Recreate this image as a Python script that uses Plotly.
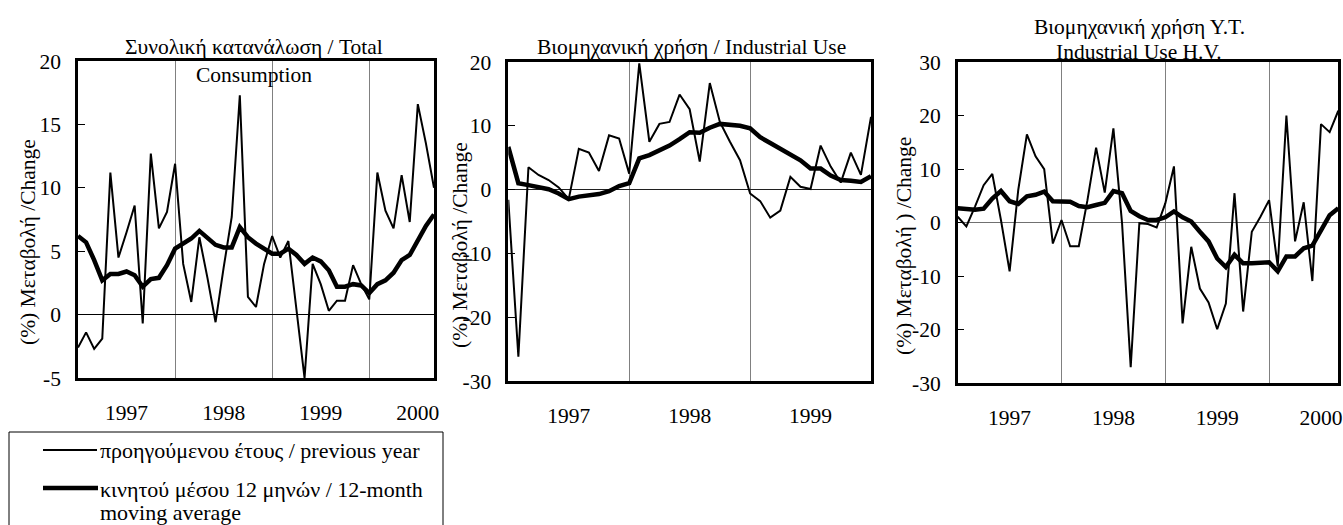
import plotly.graph_objects as go

# ---------------- data ----------------
years_13 = ["1997", "1998", "1999", "2000"]
years_2 = ["1997", "1998", "1999"]

total_yoy = [-2.6, -1.4, -2.7, -1.9, 11.2, 4.5, 6.5, 8.6, -0.7, 12.7, 6.8, 8.1,
             11.9, 4.0, 1.0, 6.1, 2.9, -0.6, 3.7, 7.7, 17.3, 1.4, 0.6, 4.0,
             6.2, 4.5, 5.8, 0.3, -5.0, 4.0, 2.4, 0.3, 1.1, 1.1, 3.9, 2.4,
             1.2, 11.2, 8.2, 6.8, 11.0, 7.3, 16.6, 13.5, 10.0]
total_ma = [6.2, 5.7, 4.3, 2.7, 3.2, 3.2, 3.4, 3.1, 2.2, 2.8, 2.9, 3.9,
            5.2, 5.6, 6.0, 6.6, 6.0, 5.5, 5.3, 5.3, 6.9, 6.1, 5.6, 5.2,
            4.8, 4.8, 5.2, 4.7, 4.0, 4.5, 4.2, 3.5, 2.2, 2.2, 2.4, 2.3,
            1.7, 2.4, 2.7, 3.3, 4.3, 4.7, 5.8, 7.0, 7.9]

ind_yoy = [-1.6, -26.2, 3.5, 2.3, 1.5, 0.35, -1.5, 6.4, 5.8, 2.9, 8.5, 8.0,
           2.5, 19.8, 7.5, 10.3, 10.6, 14.9, 12.6, 4.4, 16.7, 10.6, 7.5, 4.6,
           -0.6, -1.8, -4.4, -3.3, 2.0, 0.45, 0.1, 6.9, 3.6, 1.1, 5.8, 2.3, 11.4]
ind_ma = [6.7, 1.0, 0.7, 0.45, 0.05, -0.6, -1.5, -1.1, -0.85, -0.7, -0.25, 0.55,
          1.0, 4.9, 5.4, 6.1, 6.9, 7.9, 9.0, 8.9, 9.7, 10.3, 10.2, 10.0,
          9.6, 8.2, 7.3, 6.4, 5.6, 4.6, 3.3, 3.3, 2.2, 1.5, 1.4, 1.2, 2.1]

hv_yoy = [1.1, -0.7, 3.0, 7.0, 9.1, 0.5, -9.1, 6.1, 16.5, 12.4, 10.0, -3.9,
          0.5, -4.4, -4.4, 4.2, 14.0, 5.6, 17.6, -0.1, -27.0, -0.1, -0.25, -0.9,
          3.6, 10.5, -18.8, -4.5, -12.3, -14.9, -19.9, -15.1, 5.5, -16.6, -1.7, 1.1,
          4.2, -8.2, 20.0, -3.5, 3.8, -10.9, 18.4, 16.9, 20.9]
hv_ma = [2.7, 2.5, 2.4, 2.6, 4.5, 5.9, 4.0, 3.5, 4.9, 5.2, 5.8, 4.0,
         4.0, 3.9, 3.1, 2.9, 3.3, 3.7, 5.9, 5.5, 2.2, 1.2, 0.5, 0.5,
         1.0, 2.1, 1.0, 0.2, -1.7, -3.5, -6.7, -8.3, -6.0, -7.6, -7.6, -7.4,
         -7.4, -9.1, -6.3, -6.3, -4.8, -4.3, -1.4, 1.4, 2.7]

y_ticks_total = [-5, 0, 5, 10, 15, 20]
y_ticks_ind = [-30, -20, -10, 0, 10, 20]
y_ticks_hv = [-30, -20, -10, 0, 10, 20, 30]

year_tick_pos = [6, 18, 30, 42]      # mid-year positions (month index)
year_bounds = [12, 24, 36]            # January boundaries

# ---------------- layout helpers ----------------
W, H = 1343, 525
FONT = "'Liberation Serif', 'Times New Roman', 'DejaVu Serif', serif"
FS = 21


def px_x(v):
    return v / W


def px_y(v):
    return 1 - v / H


panels = [
    dict(yoy=total_yoy, ma=total_ma, dom_x=(78, 434), dom_y=(61, 378),
         yr=(-5, 20), yt=y_ticks_total, years=years_13, zc="#000000"),
    dict(yoy=ind_yoy, ma=ind_ma, dom_x=(508.3, 871), dom_y=(62, 381),
         yr=(-30, 20), yt=y_ticks_ind, years=years_2, zc="#202020"),
    dict(yoy=hv_yoy, ma=hv_ma, dom_x=(957.7, 1338.3), dom_y=(62, 383.3),
         yr=(-30, 30), yt=y_ticks_hv, years=years_13, zc="#707070"),
]

fig = go.Figure()
layout = dict(
    width=W, height=H, margin=dict(l=0, r=0, t=0, b=0, pad=0, autoexpand=False),
    paper_bgcolor="white", plot_bgcolor="white", showlegend=False,
    font=dict(family=FONT, size=FS, color="black"),
)

for i, p in enumerate(panels, start=1):
    xa = "x" if i == 1 else f"x{i}"
    ya = "y" if i == 1 else f"y{i}"
    n = len(p["yoy"])
    idx = list(range(n))
    fig.add_trace(go.Scatter(x=idx, y=p["yoy"], mode="lines", xaxis=xa, yaxis=ya,
                             line=dict(color="black", width=2),
                             name="προηγούμενου έτους / previous year"))
    fig.add_trace(go.Scatter(x=idx, y=p["ma"], mode="lines", xaxis=xa, yaxis=ya,
                             line=dict(color="black", width=4.5),
                             name="κινητού μέσου 12 μηνών / 12-month moving average"))
    nyears = len(p["years"])
    layout["xaxis" if i == 1 else f"xaxis{i}"] = dict(
        domain=[px_x(p["dom_x"][0]), px_x(p["dom_x"][1])],
        anchor=ya, range=[0, n - 1], automargin=False,
        tickmode="array", tickvals=year_tick_pos[:nyears], ticktext=p["years"],
        ticks="", showgrid=False, zeroline=False,
        showline=True, mirror=True, linecolor="black", linewidth=2.5,
        minor=dict(tickmode="array", tickvals=[b for b in year_bounds if b < n - 1],
                   showgrid=True, gridcolor="#808080", gridwidth=1.3, ticks=""),
        ticklabelstandoff=13,
        tickfont=dict(family=FONT, size=21.5, color="black"),
    )
    layout["yaxis" if i == 1 else f"yaxis{i}"] = dict(
        domain=[px_y(p["dom_y"][1]), px_y(p["dom_y"][0])],
        anchor=xa, range=list(p["yr"]), automargin=False,
        tickmode="array", tickvals=p["yt"], ticktext=[str(v) for v in p["yt"]],
        ticks="inside", ticklen=7, tickwidth=1, tickcolor="black",
        showgrid=False, zeroline=True, zerolinecolor=p["zc"], zerolinewidth=1.2,
        showline=True, mirror=True, linecolor="black", linewidth=2.5,
        ticklabelstandoff=10,
        tickfont=dict(family=FONT, size=21.5, color="black"),
    )

annotations = []


def ann(text, x, y, xanchor="center", angle=0, size=21.5):
    annotations.append(dict(text=text, x=px_x(x), y=px_y(y), xref="paper", yref="paper",
                            xanchor=xanchor, yanchor="middle", showarrow=False,
                            textangle=angle, font=dict(family=FONT, size=size, color="black")))


# titles
ann("Συνολική κατανάλωση / Total", 254, 47)
ann("Consumption", 254, 75)
ann("Βιομηχανική χρήση / Industrial Use", 691, 47)
ann("Βιομηχανική χρήση Υ.Τ.", 1139, 27)
ann("Industrial Use H.V.", 1139, 52)
# axis titles
ann("(%) Μεταβολή /Change", 28, 242, angle=-90)
ann("(%) Μεταβολή /Change", 460, 245, angle=-90)
ann("(%) Μεταβολή ) /Change", 904, 246, angle=-90)
# legend texts
ann("προηγούμενου έτους / previous year", 98, 450, xanchor="left", size=22)
ann("κινητού μέσου 12 μηνών / 12-month", 98, 489, xanchor="left", size=22)
ann("moving average", 98, 512, xanchor="left", size=22)

shapes = [
    dict(type="rect", xref="paper", yref="paper", x0=px_x(9), x1=px_x(443),
         y0=px_y(432), y1=px_y(545), line=dict(color="black", width=1)),
    dict(type="line", xref="paper", yref="paper", x0=px_x(43), x1=px_x(97),
         y0=px_y(450), y1=px_y(450), line=dict(color="black", width=2)),
    dict(type="line", xref="paper", yref="paper", x0=px_x(43), x1=px_x(98),
         y0=px_y(488), y1=px_y(488), line=dict(color="black", width=4.5)),
]

layout["annotations"] = annotations
layout["shapes"] = shapes
fig.update_layout(**layout)
fig.write_html("out.html", config={"displayModeBar": False},
               post_script="document.body.style.margin='0';document.body.style.overflow='hidden';")
